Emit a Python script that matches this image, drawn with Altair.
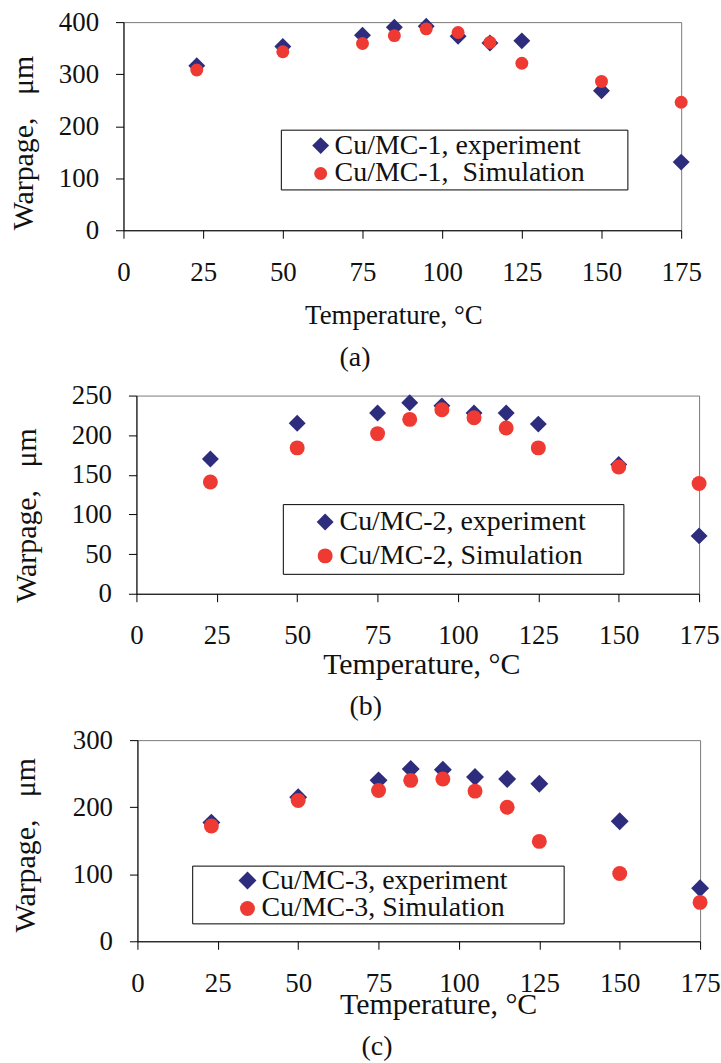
import altair as alt
import pandas as pd

# ---------------- data ----------------
temps = [23, 50, 75, 85, 95, 105, 115, 125, 150, 175]

exp_a = [316, 353, 375, 390, 392, 373, 360, 364, 268, 131]
sim_a = [308, 343, 359, 374, 387, 380, 361, 321, 286, 246]

exp_b = [170, 215, 228, 241, 237, 228, 228, 214, 163, 73]
sim_b = [141, 184, 202, 220, 232, 222, 209, 184, 160, 139]

exp_c = [177, 215, 240, 257, 256, 245, 242, 235, 179, 79]
sim_c = [172, 210, 225, 240, 242, 224, 200, 149, 101, 58]

x_ticks = [0, 25, 50, 75, 100, 125, 150, 175]
y_ticks_a = [0, 100, 200, 300, 400]
y_ticks_b = [0, 50, 100, 150, 200, 250]
y_ticks_c = [0, 100, 200, 300]

labels_a = ["Cu/MC-1, experiment", "Cu/MC-1,\u00a0 Simulation"]
labels_b = ["Cu/MC-2, experiment", "Cu/MC-2, Simulation"]
labels_c = ["Cu/MC-3, experiment", "Cu/MC-3, Simulation"]
captions = ["(a)", "(b)", "(c)"]

x_title = "Temperature, \u00b0C"
y_title = "Warpage,\u00a0\u00a0\u00a0\u03bcm"

NAVY = "#2E2C7C"
RED = "#EE3A32"
FONT = "Liberation Serif"
INK = "#111111"


def panel(exp, sim, labels, ymax, yticks, w, h, sizes, leg, xt, yt, xt_size, cap, cap_dx, cap_off):
    n = len(temps)
    df = pd.DataFrame({
        "temp": temps + temps,
        "val": exp + sim,
        "series": [labels[0]] * n + [labels[1]] * n,
        "ord": [0] * n + [1] * n,
    })
    legend = alt.Legend(
        title=".", titleOrient="right", titleFontSize=2, titleOpacity=0,
        titlePadding=leg["rpad"],
        orient="none", legendX=leg["x"], legendY=leg["y"],
        padding=leg["p"], strokeColor="black", fillColor="white",
        labelFont=FONT, labelFontSize=28, labelColor=INK, labelLimit=0,
        symbolOffset=leg["so"], labelOffset=leg["lo"], rowPadding=leg["rp"],
        symbolStrokeWidth=0,
    )
    xaxis = alt.Axis(
        values=x_ticks, title=x_title, titleX=xt[0], titleY=xt[1],
        titleAlign="center", titleBaseline="alphabetic", titleFont=FONT,
        titleFontSize=xt_size, titleFontWeight="normal", titleColor=INK,
        labelFont=FONT, labelFontSize=27, labelColor=INK, labelPadding=21,
        labelFlush=False, labelOverlap=False, tickSize=8, tickColor="black",
        domainColor="black", grid=False, format="d",
    )
    yaxis = alt.Axis(
        values=yticks, title=y_title, titleX=yt[0], titleY=yt[1],
        titleAngle=270, titleAlign="center", titleBaseline="middle",
        titleFont=FONT, titleFontSize=30, titleFontWeight="normal", titleColor=INK,
        labelFont=FONT, labelFontSize=27, labelColor=INK, labelPadding=17,
        labelFlush=False, labelOverlap=False, tickSize=8, tickColor="black",
        domainColor="black", grid=False, format="d",
    )
    return alt.Chart(df).mark_point(filled=True, opacity=1, strokeWidth=0).encode(
        x=alt.X("temp:Q", scale=alt.Scale(domain=[0, 175], nice=False, zero=False), axis=xaxis),
        y=alt.Y("val:Q", scale=alt.Scale(domain=[0, ymax], nice=False), axis=yaxis),
        color=alt.Color("series:N", scale=alt.Scale(domain=labels, range=[NAVY, RED]), legend=legend),
        shape=alt.Shape("series:N", scale=alt.Scale(domain=labels, range=["diamond", "circle"]), legend=legend),
        size=alt.Size("series:N", scale=alt.Scale(domain=labels, range=sizes), legend=legend),
        order=alt.Order("ord:Q"),
    ).properties(
        width=w, height=h,
        view=alt.ViewBackground(stroke="#7a7a7a", strokeWidth=1),
        title=alt.TitleParams(text=cap, orient="bottom", anchor="start", frame="group",
                              dx=cap_dx, offset=cap_off, font=FONT, fontSize=28,
                              fontWeight="normal", color=INK),
    )


def spacer(w, h):
    return alt.Chart(pd.DataFrame({"s": [0]})).mark_point(opacity=0, size=1).properties(
        width=w, height=h, view=alt.ViewBackground(strokeOpacity=0)
    )


pa = panel(exp_a, sim_a, labels_a, 400, y_ticks_a, 560, 209, [289, 169],
           dict(x=282, y=108, p=2, so=24, lo=0, rp=0, rpad=40),
           (271, 94), (-100, 121), 27, captions[0], 217, 15)
pb = panel(exp_b, sim_b, labels_b, 250, y_ticks_b, 565, 199, [289, 225],
           dict(x=284, y=109, p=4, so=24.5, lo=0.5, rp=6, rpad=33),
           (286, 80), (-110, 120), 30, captions[1], 214, 14)
pc = panel(exp_c, sim_c, labels_c, 300, y_ticks_c, 565, 202, [324, 225],
           dict(x=193, y=126, p=1, so=40.5, lo=0, rp=0, rpad=54),
           (302, 73), (-112, 105), 30, captions[2], 225, 13)

row_a = alt.hconcat(spacer(8, 360), pa, spacing=0)
row_b = alt.hconcat(spacer(11, 331), pb, spacing=0)
row_c = alt.hconcat(spacer(10, 10), pc, spacing=0)

chart = alt.vconcat(row_a, row_b, row_c, spacing=0).resolve_scale(
    color="independent", shape="independent", size="independent"
).properties(
    padding={"left": 0, "top": 5, "right": 0, "bottom": 0},
    background="white",
)

chart.save("out.html", embed_options={"renderer": "svg", "actions": False})
